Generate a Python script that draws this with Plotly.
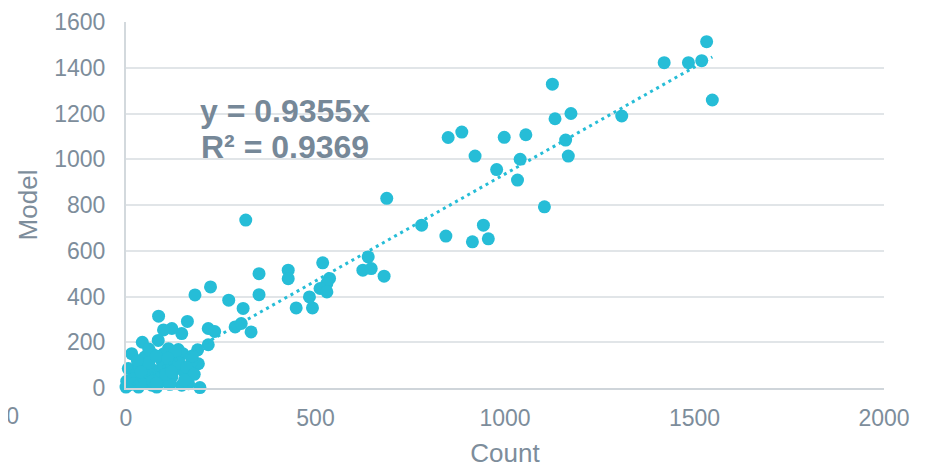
import plotly.graph_objects as go

# Data (Count vs Model)
count = [1532, 1420, 1484, 1519, 1547, 1308, 1125, 850, 886, 921, 998, 1055, 978, 1040,
         1033, 1132, 1174, 1160, 1167, 1104, 780, 844, 943, 914, 956, 688, 316,
         428, 428, 519, 639, 625, 647, 681, 537, 530, 512, 530, 484, 449, 492, 351, 351,
         182, 223, 271, 309, 288, 304, 330, 217, 234, 162, 147, 121, 99, 86, 217, 189,
         138, 43, 85, 15, 112, 68, 191, 169, 134, 6, 33, 50, 94, 76, 2, 0, 33, 68, 112,
         147, 165, 195, 24, 50, 90, 121, 156, 173, 138, 116, 81,
         10, 20, 45, 60, 100, 120, 150, 60, 100, 130, 19, 40, 70, 105,
         30, 60, 80, 110, 140, 160, 180, 120, 80, 40, 175, 155]
model = [1514, 1422, 1422, 1431, 1259, 1189, 1328, 1095, 1119, 1014, 1096, 1107, 955, 1000,
         909, 1177, 1200, 1084, 1014, 792, 712, 664, 712, 639, 652, 829, 734,
         515, 478, 547, 573, 515, 522, 489, 479, 457, 435, 420, 398, 350, 350, 500, 408,
         407, 442, 384, 348, 267, 282, 245, 260, 247, 291, 238, 260, 254, 314, 189, 167,
         168, 200, 208, 150, 172, 150, 106, 56, 85, 85, 99, 136, 121, 77, 30, 4, 4, 12, 19,
         12, 19, 2, 56, 48, 41, 48, 63, 114, 129, 16, 4,
         15, 40, 25, 65, 90, 100, 150, 110, 150, 160, 19, 20, 30, 60,
         120, 170, 140, 130, 110, 90, 60, 70, 20, 70, 140, 35]

slope = 0.9355
r_squared = 0.9369
x_ticks = [0, 500, 1000, 1500, 2000]
y_ticks = [0, 200, 400, 600, 800, 1000, 1200, 1400, 1600]

COLOR = "#26BDD7"
TXT = "#7d8d9b"
FONT = "Liberation Sans, Arial, sans-serif"

# page has an 8px body margin; plot area should sit at page x 126..884, y 22..388
L, T, PW, PH = 118, 14, 758, 366

trend_x = [0, max(count)]
trend_y = [slope * v for v in trend_x]

fig = go.Figure()
fig.add_trace(go.Scatter(
    x=count, y=model, mode="markers",
    marker=dict(color=COLOR, size=13, line=dict(width=0)),
    cliponaxis=False, showlegend=False, hoverinfo="x+y"))
fig.add_trace(go.Scatter(
    x=trend_x, y=trend_y, mode="lines",
    line=dict(color=COLOR, width=3, dash="3px,4px"),
    cliponaxis=False, showlegend=False, hoverinfo="skip"))

fig.add_annotation(
    text=f"<b>y = {slope}x</b>", xref="paper", yref="paper",
    x=(198 - 126) / PW, y=(388 - 111) / PH, xanchor="left", yanchor="middle",
    showarrow=False, font=dict(family=FONT, size=32, color="#768898"))
fig.add_annotation(
    text=f"<b>R² = {r_squared}</b>", xref="paper", yref="paper",
    x=(199 - 126) / PW, y=(388 - 147) / PH, xanchor="left", yanchor="middle",
    showarrow=False, font=dict(family=FONT, size=32, color="#768898"))
# partially visible tick label at the far left edge, as in the reference
fig.add_annotation(
    text="-500", xref="paper", yref="paper",
    x=(21 - 126) / PW, y=(388 - 416) / PH, xanchor="right", yanchor="middle",
    showarrow=False, font=dict(family=FONT, size=23, color=TXT))

fig.update_layout(
    width=927, height=467, autosize=False,
    margin=dict(l=L, r=927 - L - PW, t=T, b=467 - T - PH),
    paper_bgcolor="white", plot_bgcolor="white",
    font=dict(family=FONT, color=TXT),
    xaxis=dict(range=[0, 2000], tickvals=x_ticks, showgrid=False, zeroline=False,
               showline=True, linecolor="#cfd5da", linewidth=2, automargin=False,
               tickfont=dict(size=23, color=TXT), ticklabelstandoff=8,
               title=dict(text="Count", font=dict(size=26, color=TXT), standoff=14)),
    yaxis=dict(range=[0, 1600], tickvals=y_ticks, showgrid=True, gridcolor="#e1e5e8",
               gridwidth=1.5, zeroline=False, showline=True, linecolor="#d3d9dd",
               linewidth=2, automargin=False, tickfont=dict(size=23, color=TXT),
               ticklabelstandoff=14,
               title=dict(text="Model", font=dict(size=26, color=TXT), standoff=9)),
)

fig.write_html("out.html")
